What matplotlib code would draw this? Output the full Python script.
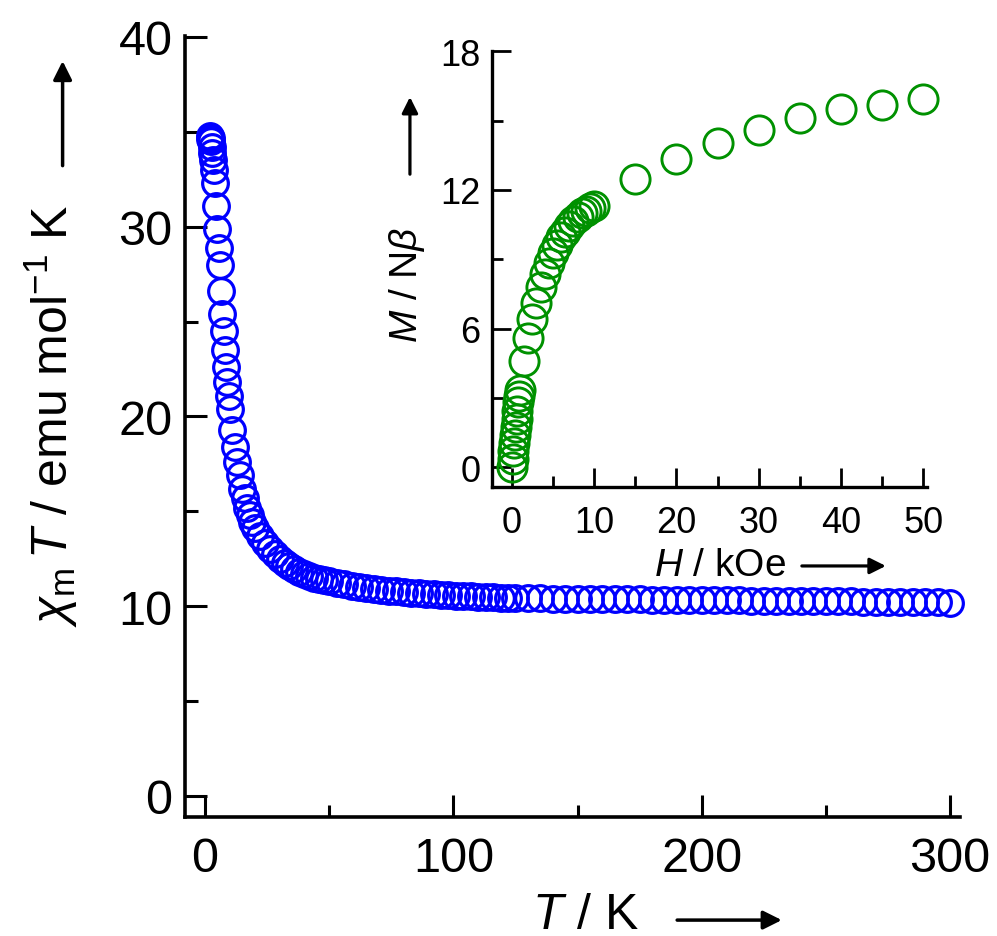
import matplotlib
matplotlib.use("Agg")
import matplotlib.pyplot as plt
from matplotlib.ticker import MultipleLocator

plt.rcParams['font.family'] = ['Liberation Sans', 'DejaVu Sans']
plt.rcParams['mathtext.fontset'] = 'custom'
plt.rcParams['mathtext.rm'] = 'Liberation Sans'
plt.rcParams['mathtext.it'] = 'Liberation Sans:italic'
plt.rcParams['mathtext.bf'] = 'Liberation Sans:bold'

# ---- main data: chi_m T vs T ----
T_K = [2.0, 2.2, 2.4, 2.6, 2.8, 3.0, 3.2, 3.5,
       4.0, 4.5, 5.0, 5.5, 6.0, 6.5, 7.0, 7.5, 8.0, 8.5, 9.0, 9.5, 10.0,
       11, 12, 13, 14, 15, 16, 17, 18, 19, 20,
       22, 24, 26, 28, 30, 32, 34, 36, 38, 40, 42, 44, 46, 48, 50,
       53, 56, 59, 62, 65, 68, 71, 74, 77, 80, 83, 86, 89, 92, 95, 98,
       101, 104, 107, 110, 113, 116, 119, 122,
       125, 130, 135, 140, 145, 150, 155, 160, 165, 170, 175, 180,
       185, 190, 195, 200, 205, 210, 215, 220, 225, 230, 235, 240,
       245, 250, 255, 260, 265, 270, 275, 280, 285, 290, 295, 300]
chiT = [34.6, 34.8, 34.7, 34.5, 34.2, 33.9, 33.5, 33.0,
        32.3, 31.1, 29.9, 28.9, 28.0, 26.6, 25.4, 24.5, 23.5, 22.6, 21.8, 21.1, 20.4,
        19.3, 18.4, 17.6, 16.9, 16.2, 15.7, 15.2, 14.8, 14.45, 14.1,
        13.7, 13.35, 13.0, 12.75, 12.5, 12.3, 12.1, 11.95, 11.8, 11.7, 11.6, 11.5, 11.45, 11.38, 11.32,
        11.24, 11.16, 11.09, 11.03, 10.97, 10.91, 10.86, 10.82, 10.78, 10.74, 10.71, 10.68, 10.65, 10.62, 10.60, 10.58,
        10.56, 10.54, 10.52, 10.50, 10.48, 10.47, 10.45, 10.44,
        10.43, 10.42, 10.41, 10.40, 10.40, 10.39, 10.38, 10.38, 10.37, 10.36, 10.36, 10.35,
        10.35, 10.34, 10.33, 10.33, 10.32, 10.31, 10.31, 10.30, 10.29, 10.29, 10.28, 10.27,
        10.27, 10.26, 10.25, 10.25, 10.24, 10.23, 10.23, 10.22, 10.21, 10.21, 10.20, 10.19]

# ---- inset data: M vs H ----
H_kOe = [0.0, 0.1, 0.2, 0.3, 0.4, 0.5, 0.6, 0.7, 0.8, 0.9, 1.0,
         1.5, 2.0, 2.5, 3.0, 3.5, 4.0, 4.5, 5.0, 5.5, 6.0, 6.5, 7.0, 7.5, 8.0, 8.5, 9.0, 9.5, 10.0,
         15, 20, 25, 30, 35, 40, 45, 50]
M_Nb = [0.0, 0.35, 0.7, 1.05, 1.4, 1.75, 2.1, 2.45, 2.8, 3.1, 3.35,
        4.6, 5.6, 6.4, 7.1, 7.8, 8.35, 8.85, 9.25, 9.6, 9.95, 10.2, 10.45, 10.65, 10.85, 11.0, 11.1, 11.2, 11.3,
        12.49, 13.34, 14.03, 14.6, 15.13, 15.49, 15.70, 15.92]

main_ticks = [0, 100, 200, 300]
main_yticks = [0, 10, 20, 30, 40]
inset_xticks = [0, 10, 20, 30, 40, 50]
inset_yticks = [0, 6, 12, 18]

fig = plt.figure(figsize=(9.97, 9.37), dpi=100)
ax = fig.add_axes([0.1856, 0.127, 0.7773, 0.8335])
ax.patch.set_alpha(0)

ax.plot(T_K, chiT, linestyle='none', marker='o', ms=18.5, mfc='none',
        mec='#0000ff', mew=2.3, clip_on=False)
ax.set_xlim(-8.05, 304)
ax.set_ylim(-1.107, 40.05)
ax.set_xticks(main_ticks)
ax.set_yticks(main_yticks)
ax.xaxis.set_minor_locator(MultipleLocator(50))
ax.yaxis.set_minor_locator(MultipleLocator(5))
for s in ['top', 'right']:
    ax.spines[s].set_visible(False)
for s in ['left', 'bottom']:
    ax.spines[s].set_linewidth(2.6)
ax.tick_params(which='both', direction='in', width=2.2, labelsize=35)
ax.tick_params(which='major', length=16)
ax.tick_params(which='minor', length=9)
ax.tick_params(axis='x', which='major', pad=14)
ax.tick_params(axis='y', which='major', pad=9)

ax.text(0.517, -0.125, r'$T$ / K', transform=ax.transAxes, fontsize=36,
        ha='center', va='center')
ax.annotate('', xy=(0.77, -0.132), xytext=(0.635, -0.132), xycoords='axes fraction',
            arrowprops=dict(arrowstyle='-|>', lw=2.5, color='black', mutation_scale=28,
                            shrinkA=0, shrinkB=0), annotation_clip=False)
ax.text(-0.172, 0.515, r'$\chi_\mathrm{m}\,T$ / emu mol$^{-1}$ K', transform=ax.transAxes,
        fontsize=36, rotation=90, ha='center', va='center')
ax.annotate('', xy=(-0.158, 0.968), xytext=(-0.158, 0.834), xycoords='axes fraction',
            arrowprops=dict(arrowstyle='-|>', lw=2.5, color='black', mutation_scale=28,
                            shrinkA=0, shrinkB=0), annotation_clip=False)

# ---- inset ----
ins = fig.add_axes([0.4932, 0.4792, 0.4363, 0.4656])
ins.patch.set_alpha(0)
ins.plot(H_kOe, M_Nb, linestyle='none', marker='o', ms=21, mfc='none',
         mec='#009100', mew=2.1, clip_on=False)
ins.set_xlim(-2.43, 50.4)
ins.set_ylim(-0.86, 18.03)
ins.set_xticks(inset_xticks)
ins.set_yticks(inset_yticks)
ins.xaxis.set_minor_locator(MultipleLocator(5))
ins.yaxis.set_minor_locator(MultipleLocator(3))
for s in ['top', 'right']:
    ins.spines[s].set_visible(False)
for s in ['left', 'bottom']:
    ins.spines[s].set_linewidth(2.4)
ins.tick_params(which='both', direction='in', width=2.0, labelsize=26)
ins.tick_params(which='major', length=14)
ins.tick_params(which='minor', length=8)
ins.tick_params(axis='x', which='major', pad=13)
ins.tick_params(axis='y', which='major', pad=8)

ins.text(0.525, -0.179, r'$H$ / kOe', transform=ins.transAxes, fontsize=28,
         ha='center', va='center')
ins.annotate('', xy=(0.906, -0.181), xytext=(0.713, -0.181), xycoords='axes fraction',
             arrowprops=dict(arrowstyle='-|>', lw=2.3, color='black', mutation_scale=24,
                             shrinkA=0, shrinkB=0), annotation_clip=False)
ins.text(-0.195, 0.465, r'$M$ / N$\beta$', transform=ins.transAxes, fontsize=28,
         rotation=90, ha='center', va='center')
ins.annotate('', xy=(-0.188, 0.894), xytext=(-0.188, 0.717), xycoords='axes fraction',
             arrowprops=dict(arrowstyle='-|>', lw=2.3, color='black', mutation_scale=24,
                             shrinkA=0, shrinkB=0), annotation_clip=False)

fig.savefig('out.png', dpi=100)
